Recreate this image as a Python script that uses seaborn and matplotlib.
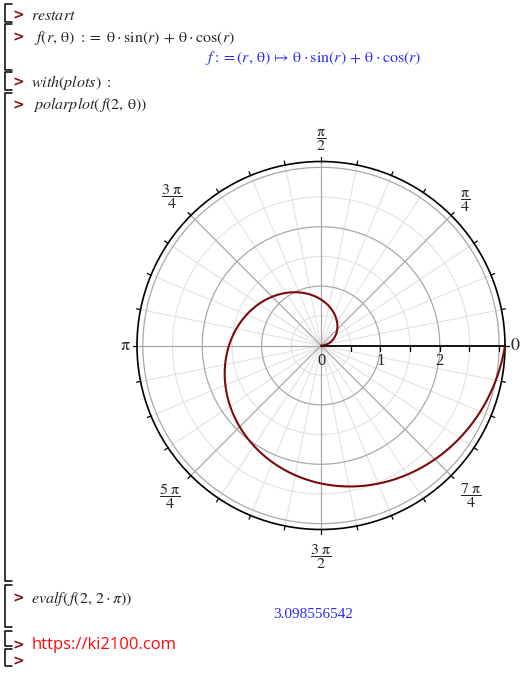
import numpy as np
import matplotlib
matplotlib.use("Agg")
import matplotlib.pyplot as plt
import matplotlib.transforms as mtransforms
from matplotlib.lines import Line2D
import seaborn as sns

sns.set_style("white")
plt.rcParams["mathtext.fontset"] = "stix"
plt.rcParams["font.family"] = ["Liberation Serif", "DejaVu Serif"]

# f(r, theta) = theta*sin(r) + theta*cos(r), plotted for r = 2
r_arg = 2
theta = np.linspace(0, 2 * np.pi, 600)
radius = theta * np.sin(r_arg) + theta * np.cos(r_arg)
r_max = 2 * np.pi * (np.sin(r_arg) + np.cos(r_arg))
evalf_text = "3.098556542"

angle_labels = [r"$0$", r"$\dfrac{\mathrm{\pi}}{4}$", r"$\dfrac{\mathrm{\pi}}{2}$",
                r"$\dfrac{3\ \mathrm{\pi}}{4}$", r"$\mathrm{\pi}$",
                r"$\dfrac{5\ \mathrm{\pi}}{4}$", r"$\dfrac{3\ \mathrm{\pi}}{2}$",
                r"$\dfrac{7\ \mathrm{\pi}}{4}$"]
radial_labels = ["0", "1", "2"]
radial_label_values = [0, 1, 2]

W, H = 523, 674
fig = plt.figure(figsize=(W / 100, H / 100), dpi=100)
fig.patch.set_facecolor("white")


def px(x, y):
    return x / W, 1 - y / H


# worksheet execution-group brackets
brackets = [(4, 22), (24, 70), (72, 90), (93, 581), (585, 627), (631, 646), (649, 666)]
for top, bot in brackets:
    xs = [12 / W, 4.5 / W, 4.5 / W, 12 / W]
    ys = [1 - top / H, 1 - top / H, 1 - bot / H, 1 - bot / H]
    fig.add_artist(Line2D(xs, ys, transform=fig.transFigure, color="black", lw=1.1))

prompt_color = "#8b1010"
for y in [15, 37, 82, 105, 598, 645, 661]:
    fig.text(*px(12, y), ">", color=prompt_color, fontsize=10, fontweight="bold",
             family="DejaVu Sans", ha="left", va="center")

fs = 11.5
fig.text(*px(31, 16), r"$restart$", fontsize=fs, ha="left", va="center")
fig.text(*px(34, 38),
         r"$f\left(r,\,\mathrm{\theta}\right)\ :=\ \mathrm{\theta}\cdot\mathrm{sin}(r)\,+\,\mathrm{\theta}\cdot\mathrm{cos}(r)$",
         fontsize=fs, ha="left", va="center")
fig.text(*px(313, 58),
         r"$f := \left(r,\,\mathrm{\theta}\right)\,\mapsto\,\mathrm{\theta}\cdot\mathrm{sin}(r)\,+\,\mathrm{\theta}\cdot\mathrm{cos}(r)$",
         fontsize=fs, color="#2a2aff", ha="center", va="center")
fig.text(*px(31, 82), r"$with(plots)\ :$", fontsize=fs, ha="left", va="center")
fig.text(*px(33, 105), r"$polarplot\left(\,f\left(2,\,\mathrm{\theta}\right)\right)$",
         fontsize=fs, ha="left", va="center")
fig.text(*px(31, 598), r"$evalf\left(\,f\left(2,\,2\cdot\pi\right)\right)$",
         fontsize=fs, ha="left", va="center")
fig.text(*px(313, 615), evalf_text, fontsize=11, color="#2a2aff", ha="center", va="center")
fig.text(*px(32, 645), "https://ki2100.com", fontsize=12, color="#ff0a0a",
         family="Open Sans", ha="left", va="center")

# polar plot: centre at (321, 345.5), outer radius 184 px
cx, cy, R = 321, 345.5, 184
ax = fig.add_axes([(cx - R) / W, (H - cy - R) / H, 2 * R / W, 2 * R / H], projection="polar")
ax.set_facecolor("white")
ax.set_ylim(0, r_max)
ax.grid(False)
ax.set_yticks([])
ax.set_xticks([])
ax.spines["polar"].set_color("black")
ax.spines["polar"].set_linewidth(1.2)

minor_angles = np.arange(32) * np.pi / 16
full = np.linspace(0, 2 * np.pi, 721)
for rv in np.arange(0.5, 3.01, 0.5):
    major = abs(rv - round(rv)) < 1e-9
    ax.plot(full, np.full_like(full, rv), color="#a8a8a8" if major else "#e2e2e2",
            lw=0.9 if major else 0.8, zorder=1 if major else 0.5)
for k, a in enumerate(minor_angles):
    if k == 0:
        continue
    major = k % 4 == 0
    ax.plot([a, a], [0, r_max], color="#a8a8a8" if major else "#e2e2e2",
            lw=0.9 if major else 0.8, zorder=1 if major else 0.5)

# outward tick marks on the rim
for a in minor_angles:
    ax.plot([a, a], [r_max, r_max * 1.022], color="black", lw=0.9, clip_on=False, zorder=4)

# radial axis along theta = 0
ax.plot([0, 0], [0, r_max], color="black", lw=1.3, zorder=2)
ax.plot(np.zeros(6), np.arange(0.5, 3.01, 0.5), ls="none", marker=3, ms=3.5,
        mew=0.9, color="black", zorder=2)
for lab, rv in zip(radial_labels, radial_label_values):
    ax.annotate(lab, (0, rv), xytext=(0, -11), textcoords="offset points",
                ha="center", va="center", fontsize=12, family="Liberation Serif")

sns.lineplot(x=theta, y=radius, ax=ax, color="#7d0a0a", lw=1.5, estimator=None,
             sort=False, zorder=3)

# angle labels around the rim
label_dist = [10, 20, 21, 27, 12, 29, 27, 28]
for k, (lab, d) in enumerate(zip(angle_labels, label_dist)):
    a = k * np.pi / 4
    size = 11.5 if "frac" in lab else 13
    tr = mtransforms.offset_copy(ax.transData, fig=fig, x=d * np.cos(a),
                                 y=d * np.sin(a), units="dots")
    ax.text(a, r_max, lab, transform=tr, ha="center", va="center", fontsize=size,
            clip_on=False)

fig.savefig("out.png", dpi=100, facecolor="white")
